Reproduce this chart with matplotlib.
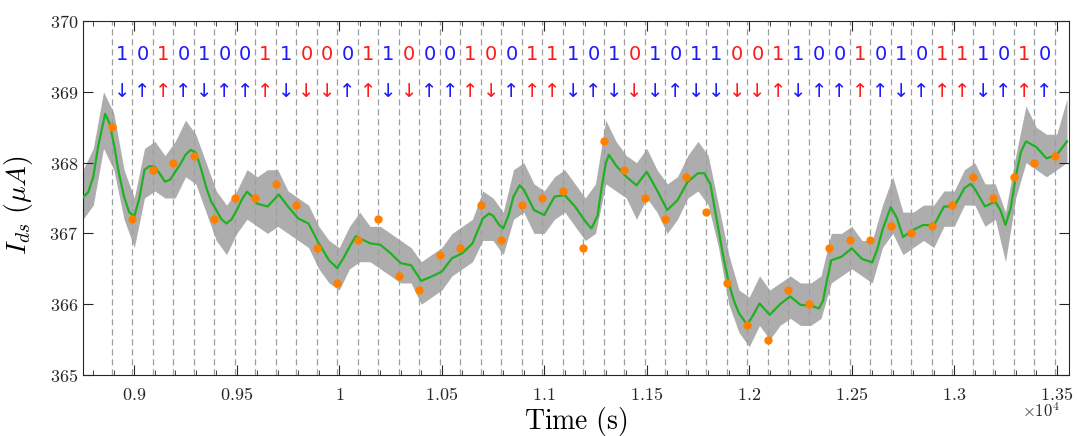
import numpy as np
import matplotlib
matplotlib.use("Agg")
import matplotlib.pyplot as plt
from matplotlib.ticker import FixedLocator, FuncFormatter

plt.rcParams['mathtext.fontset'] = 'cm'
plt.rcParams['font.family'] = ['DejaVu Sans']

# ---- data -------------------------------------------------------------
# smoothed drain current (green), time in s
smooth_t = [8750, 8775, 8800, 8825, 8858, 8880, 8900, 8925, 8950, 8975, 9000, 9025,
            9050, 9075, 9100, 9125, 9150, 9175, 9200, 9225, 9250, 9275, 9300, 9325,
            9350, 9375, 9400, 9425, 9450, 9475, 9500, 9525, 9550, 9575, 9600, 9650,
            9705, 9750, 9800, 9850, 9900, 9950, 9990, 10020, 10050, 10080, 10150,
            10200, 10250, 10300, 10350, 10400, 10450, 10500, 10550, 10600, 10650,
            10700, 10730, 10750, 10780, 10800, 10825, 10850, 10880, 10900, 10950,
            11000, 11050, 11100, 11150, 11200, 11230, 11260, 11280, 11300, 11315,
            11350, 11400, 11450, 11500, 11550, 11600, 11650, 11700, 11750, 11780,
            11810, 11850, 11875, 11900, 11925, 11950, 11990, 12020, 12050, 12100,
            12150, 12200, 12250, 12300, 12340, 12360, 12380, 12400, 12450, 12500,
            12550, 12600, 12625, 12650, 12690, 12720, 12750, 12800, 12850, 12900,
            12950, 13000, 13050, 13080, 13100, 13150, 13200, 13225, 13250, 13275,
            13300, 13325, 13350, 13400, 13450, 13500, 13550]
smooth_i = [367.51, 367.58, 367.80, 368.25, 368.69, 368.55, 368.27, 367.85, 367.52,
            367.30, 367.24, 367.50, 367.90, 367.95, 367.94, 367.84, 367.73, 367.76,
            367.87, 367.98, 368.11, 368.18, 368.14, 367.92, 367.66, 367.45, 367.33,
            367.20, 367.14, 367.20, 367.33, 367.48, 367.59, 367.52, 367.42, 367.38,
            367.55, 367.38, 367.21, 367.14, 366.86, 366.62, 366.51, 366.65, 366.81,
            366.96, 366.86, 366.84, 366.72, 366.58, 366.55, 366.33, 366.39, 366.46,
            366.65, 366.72, 366.86, 367.21, 367.28, 367.25, 367.12, 367.07, 367.25,
            367.52, 367.68, 367.62, 367.33, 367.26, 367.52, 367.54, 367.38, 367.17,
            367.07, 367.25, 367.65, 367.99, 368.11, 367.96, 367.80, 367.68, 367.87,
            367.61, 367.33, 367.47, 367.73, 367.85, 367.85, 367.70, 367.05, 366.65,
            366.30, 366.05, 365.87, 365.71, 365.85, 366.01, 365.85, 366.00, 366.11,
            365.99, 365.98, 365.94, 366.05, 366.35, 366.62, 366.67, 366.79, 366.64,
            366.59, 366.78, 367.05, 367.37, 367.22, 366.95, 367.05, 367.12, 367.11,
            367.38, 367.38, 367.64, 367.70, 367.63, 367.38, 367.45, 367.33, 367.12,
            367.35, 367.80, 368.15, 368.30, 368.22, 368.06, 368.11, 368.30]

# raw trace spread (grey): lower / upper bounds every 50 s
raw_t = list(range(8750, 13551, 50))
raw_lo = [367.2, 367.4, 368.2, 367.9, 367.2, 366.8, 367.5, 367.6, 367.5, 367.5,
          367.8, 367.7, 367.3, 366.9, 366.7, 367.0, 367.2, 367.1, 367.0, 367.1,
          367.0, 366.9, 366.8, 366.5, 366.3, 366.2, 366.5, 366.6, 366.6, 366.5,
          366.4, 366.3, 366.3, 366.0, 366.1, 366.2, 366.4, 366.5, 366.6, 366.9,
          366.9, 366.7, 367.2, 367.3, 367.0, 367.0, 367.2, 367.3, 367.1, 366.9,
          367.0, 367.7, 367.6, 367.5, 367.2, 367.5, 367.3, 367.0, 367.2, 367.5,
          367.6, 367.4, 366.8, 366.0, 365.6, 365.4, 365.7, 365.5, 365.7, 365.8,
          365.7, 365.7, 365.8, 366.3, 366.4, 366.5, 366.4, 366.3, 366.8, 367.0,
          366.7, 366.8, 366.9, 366.8, 367.1, 367.1, 367.4, 367.4, 367.1, 367.2,
          366.6, 367.5, 368.0, 367.9, 367.8, 367.9, 368.0]
raw_hi = [367.9, 368.2, 369.0, 368.7, 367.9, 367.5, 368.2, 368.3, 368.1, 368.3,
          368.6, 368.4, 368.0, 367.6, 367.4, 367.6, 367.9, 367.8, 367.9, 367.9,
          367.6, 367.5, 367.4, 367.1, 366.9, 366.8, 367.1, 367.3, 367.1, 367.1,
          367.0, 366.9, 366.8, 366.6, 366.7, 366.8, 367.0, 367.1, 367.2, 367.6,
          367.5, 367.3, 367.9, 368.0, 367.7, 367.6, 367.8, 367.9, 367.7, 367.5,
          367.7, 368.6, 368.3, 368.1, 368.0, 368.2, 367.9, 367.7, 367.8, 368.1,
          368.3, 368.1, 367.4, 366.7, 366.2, 366.1, 366.4, 366.2, 366.3, 366.4,
          366.3, 366.3, 366.4, 367.0, 367.0, 367.1, 366.9, 366.9, 367.4, 367.8,
          367.3, 367.3, 367.4, 367.4, 367.6, 367.6, 367.9, 368.0, 367.7, 367.7,
          367.3, 368.1, 368.8, 368.5, 368.4, 368.4, 368.9]

# sampled read-out points (orange), one per 100 s slot boundary
sample_t = list(range(8890, 13491, 100))
sample_i = [368.5, 367.2, 367.9, 368.0, 368.1, 367.2, 367.5, 367.5, 367.7, 367.4,
            366.8, 366.3, 366.9, 367.2, 366.4, 366.2, 366.7, 366.8, 367.4, 366.9,
            367.4, 367.5, 367.6, 366.8, 368.3, 367.9, 367.5, 367.2, 367.8, 367.3,
            366.3, 365.7, 365.5, 366.2, 366.0, 366.8, 366.9, 366.9, 367.1, 367.0,
            367.1, 367.4, 367.8, 367.5, 367.8, 368.0, 368.1]

# decoded bits and measured step direction per slot (1 = up, 0 = down)
bits = [1, 0, 1, 0, 1, 0, 0, 1, 1, 0, 0, 0, 1, 1, 0,
        0, 0, 1, 0, 0, 1, 1, 1, 0, 1, 0, 1, 0, 1, 1, 0,
        0, 1, 1, 0, 0, 1, 0, 1, 0, 1, 1, 1, 0, 1, 0]
steps = [0, 1, 1, 1, 0, 1, 1, 1, 0, 0, 0, 1, 1, 0, 0,
         1, 1, 1, 0, 1, 1, 1, 0, 1, 0, 0, 0, 1, 0, 0, 0,
         0, 1, 0, 1, 1, 1, 1, 0, 1, 1, 1, 0, 1, 1, 1]
slot_t = [8940 + 100 * k for k in range(len(bits))]
boundary_t = sample_t

# ---- figure -----------------------------------------------------------
fig = plt.figure(figsize=(10.77, 4.36), dpi=100)
ax = fig.add_axes([0.0771, 0.1399, 0.9155, 0.8119])

grey = (0.6, 0.6, 0.6)
ax.fill_between(raw_t, raw_lo, raw_hi, color=grey, alpha=0.8, lw=0, zorder=1)
for bt in boundary_t:
    ax.axvline(bt, color=(0.62, 0.62, 0.62), ls=(0, (5, 3)), lw=0.9, zorder=2)
ax.plot(smooth_t, smooth_i, color=(0.13, 0.69, 0.13), lw=1.6, zorder=3)
ax.plot(sample_t, sample_i, 'o', color=(1.0, 0.5, 0.0), ms=6, mec='none', zorder=4)

for t, b, s in zip(slot_t, bits, steps):
    ok = (b == 1 and s == 0) or (b == 0 and s == 1)
    col = (0.1, 0.1, 1.0) if ok else (1.0, 0.1, 0.1)
    ax.text(t, 369.52, str(b), color=col, fontsize=14, ha='center', va='center')
    ax.text(t, 369.0, '\u2191' if s == 1 else '\u2193', color=col, fontsize=14,
            ha='center', va='center')

ax.set_xlim(8750, 13560)
ax.set_ylim(365, 370)
ax.xaxis.set_major_locator(FixedLocator(np.arange(9000, 13501, 500)))
ax.xaxis.set_minor_locator(FixedLocator(np.arange(8800, 13560, 100)))
ax.yaxis.set_major_locator(FixedLocator(np.arange(365, 370.1, 1)))
ax.xaxis.set_major_formatter(FuncFormatter(lambda v, p: r'$%g$' % (v / 1e4)))
ax.yaxis.set_major_formatter(FuncFormatter(lambda v, p: r'$%d$' % v))
ax.tick_params(which='both', direction='in', top=True, right=True,
               labelsize=13, colors=(0.15, 0.15, 0.15))
ax.tick_params(which='major', length=7, width=0.8)
ax.tick_params(which='minor', length=3.5, width=0.6)
ax.tick_params(axis='x', pad=8)
for sp in ax.spines.values():
    sp.set_color((0.15, 0.15, 0.15))
    sp.set_linewidth(0.8)

ax.set_xlabel(r'$\mathrm{Time\ (s)}$', fontsize=20)
ax.xaxis.set_label_coords(0.5, -0.085)
ax.set_ylabel(r'$I_{ds}\ (\mu A)$', fontsize=20)
ax.yaxis.set_label_coords(-0.049, 0.48)
fig.text(1041 / 1077, 1 - 412 / 436, r'$\times10^{4}$', fontsize=12,
         ha='center', va='center', color=(0.15, 0.15, 0.15))

fig.savefig('out.png', dpi=100)
